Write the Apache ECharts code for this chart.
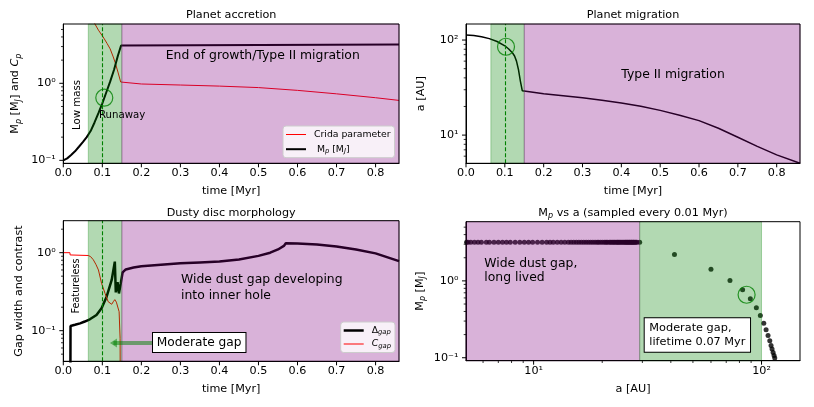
<!DOCTYPE html>
<html>
<head>
<meta charset="utf-8">
<title>Planet accretion, migration and dusty disc morphology</title>
<script src="https://cdn.jsdelivr.net/npm/echarts@6/dist/echarts.min.js"></script>
<style>
  html, body { margin: 0; padding: 0; background: #fff; }
  #chart { width: 814px; height: 407px; }
</style>
</head>
<body>
<div id="chart"></div>
<script>
// ---- planet accretion (top left) ----
var accTime = [0, 0.01, 0.02, 0.03, 0.04, 0.05, 0.06, 0.07, 0.08, 0.09, 0.10, 0.11, 0.12, 0.13, 0.14, 0.148, 0.15, 0.86];
var accMass = [0.100, 0.106, 0.117, 0.131, 0.150, 0.172, 0.200, 0.240, 0.310, 0.410, 0.550, 0.760, 1.05, 1.50, 2.30, 3.10, 3.18, 3.18];
var cridaTime = [0.075, 0.081, 0.090, 0.102, 0.112, 0.120, 0.128, 0.133, 0.140, 0.147, 0.150, 0.20, 0.30, 0.40, 0.50, 0.60, 0.70, 0.80, 0.86];
var cridaValue = [6.6, 5.9, 4.9, 4.0, 3.3, 2.8, 2.2, 1.85, 1.4, 1.04, 1.0, 0.98, 0.95, 0.92, 0.88, 0.81, 0.73, 0.65, 0.60];

// ---- planet migration (top right) ----
var migTime = [0, 0.02, 0.04, 0.06, 0.08, 0.10, 0.11, 0.12, 0.125, 0.13, 0.135, 0.14, 0.145, 0.15, 0.20, 0.25, 0.30, 0.35, 0.40, 0.45, 0.50, 0.55, 0.60, 0.65, 0.70, 0.75, 0.80, 0.86];
var migA = [113, 111.5, 108.5, 103.5, 96.5, 87, 80.5, 73, 68, 60, 49, 37, 29.2, 28.7, 27.3, 26.0, 24.7, 23.3, 21.8, 20.1, 18.2, 16.2, 14.2, 11.8, 9.5, 7.6, 6.2, 5.05];

// ---- dusty disc morphology (bottom left) ----
var gapTime = [0.018, 0.0185, 0.03, 0.043, 0.055, 0.068, 0.085, 0.098, 0.111, 0.124, 0.132, 0.1345, 0.139, 0.1425, 0.147, 0.152, 0.16, 0.18, 0.20, 0.25, 0.30, 0.35, 0.40, 0.45, 0.50, 0.53, 0.55, 0.565, 0.57, 0.60, 0.65, 0.70, 0.75, 0.80, 0.86];
var gapWidth = [0.01, 0.115, 0.119, 0.124, 0.131, 0.140, 0.159, 0.194, 0.273, 0.447, 0.767, 0.31, 0.42, 0.30, 0.40, 0.56, 0.61, 0.645, 0.67, 0.70, 0.73, 0.75, 0.77, 0.82, 0.91, 1.0, 1.1, 1.22, 1.32, 1.31, 1.27, 1.20, 1.10, 0.98, 0.78];
var contrastTime = [0, 0.017, 0.0175, 0.064, 0.070, 0.077, 0.084, 0.090, 0.098, 0.107, 0.115, 0.124, 0.128, 0.132, 0.136, 0.141, 0.143, 0.1455, 0.146];
var contrastValue = [1.0, 1.0, 0.935, 0.92, 0.89, 0.81, 0.70, 0.60, 0.405, 0.30, 0.235, 0.218, 0.235, 0.25, 0.232, 0.225, 0.175, 0.08, 0.01];

// ---- Mp vs a, sampled every 0.01 Myr (bottom right) ----
var growthA = [114.3, 113.5, 112.4, 111.2, 110.1, 108.7, 106.8, 104.7, 102.3, 98.8, 94.9, 89.3, 82.6, 72.7, 60.0, 41.5, 29.2];
var growthMass = [0.099, 0.107, 0.117, 0.130, 0.144, 0.166, 0.195, 0.231, 0.282, 0.354, 0.446, 0.584, 0.764, 1.01, 1.42, 2.20, 3.18];
var type2A = [28.4, 28.1, 27.8, 27.5, 27.3, 27.0, 26.8, 26.5, 26.3, 26.0,
              25.8, 25.5, 25.3, 25.0, 24.7, 24.4, 24.1, 23.8, 23.5, 23.3,
              23.0, 22.7, 22.4, 22.1, 21.8, 21.5, 21.1, 20.8, 20.5, 20.1,
              19.7, 19.3, 19.0, 18.6, 18.2, 17.8, 17.4, 17.0, 16.6, 16.2,
              15.8, 15.4, 15.0, 14.6, 14.2, 13.7, 13.2, 12.7, 12.2, 11.8,
              11.4, 10.9, 10.4, 9.9, 9.5, 9.1, 8.7, 8.3, 7.9, 7.6,
              7.3, 7.0, 6.7, 6.4, 6.2, 5.9, 5.7, 5.5, 5.3, 5.15, 5.08];
var type2Mass = [3.18, 3.18, 3.18, 3.18, 3.18, 3.18, 3.18, 3.18, 3.18, 3.18,
                 3.18, 3.18, 3.18, 3.18, 3.18, 3.18, 3.18, 3.18, 3.18, 3.18,
                 3.18, 3.18, 3.18, 3.18, 3.18, 3.18, 3.18, 3.18, 3.18, 3.18,
                 3.18, 3.18, 3.18, 3.18, 3.18, 3.18, 3.18, 3.18, 3.18, 3.18,
                 3.18, 3.18, 3.18, 3.18, 3.18, 3.18, 3.18, 3.18, 3.18, 3.18,
                 3.18, 3.18, 3.18, 3.18, 3.18, 3.18, 3.18, 3.18, 3.18, 3.18,
                 3.18, 3.18, 3.18, 3.18, 3.18, 3.18, 3.18, 3.18, 3.18, 3.18, 3.18];

// phases and markers
var runawayStart = 0.064, gapOpen = 0.15, tEnd = 0.86, tMark = 0.103;
var aGapOpen = 29.2, aRunawayStart = 100;
var circleAcc = [0.105, 0.65], circleMig = [0.103, 85], circleSample = [86, 0.66];
var arrowFrom = [0.229, 0.0695], arrowTo = [0.1285, 0.0695];

// axis ranges and ticks
var massRange = [0.0915, 5.89], aRange = [5.05, 147.5], gapRange = [0.0405, 2.57];
var timeTicks = [0, 0.1, 0.2, 0.3, 0.4, 0.5, 0.6, 0.7, 0.8];
var massTicks = [0.1, 1];
var massMinor = [0.2, 0.3, 0.4, 0.5, 0.6, 0.7, 0.8, 0.9, 2, 3, 4, 5];
var aTicks = [10, 100];
var aMinor = [6, 7, 8, 9, 20, 30, 40, 50, 60, 70, 80, 90];
var gapTicks = [0.1, 1];
var gapMinor = [0.05, 0.06, 0.07, 0.08, 0.09, 0.2, 0.3, 0.4, 0.5, 0.6, 0.7, 0.8, 0.9, 2];

var FONT = 'DejaVu Sans';
var FS = 11.2;

function pairs(xs, ys) {
  return xs.map(function (x, i) { return [x, ys[i]]; });
}

// 10^n labels for the log axes, blank at the range edges
var SUP = {'-': '\u207B', '0': '\u2070', '1': '\u00B9', '2': '\u00B2', '3': '\u00B3'};
function powLabel(v) {
  var e = Math.log10(v);
  if (Math.abs(e - Math.round(e)) > 1e-6) return '';
  return '10' + String(Math.round(e)).split('').map(function (c) { return SUP[c]; }).join('');
}

var axisRich = {
  n: {fontSize: FS, lineHeight: 15, fontFamily: FONT, color: '#000'},
  i: {fontSize: FS, lineHeight: 15, fontFamily: FONT, fontStyle: 'italic', color: '#000'},
  s: {fontSize: 8, lineHeight: 8, fontFamily: FONT, fontStyle: 'italic', verticalAlign: 'bottom', color: '#000'}
};

function timeAxis(grid) {
  return {
    gridIndex: grid, type: 'value', min: 0, max: tEnd,
    name: 'time [Myr]', nameLocation: 'middle', nameGap: 22, nameMoveOverlap: false,
    nameTextStyle: {fontSize: FS, fontFamily: FONT, color: '#000'},
    axisLine: {show: true, onZero: false, lineStyle: {color: '#000', width: 1}},
    axisTick: {show: false},
    axisLabel: {customValues: timeTicks, fontSize: FS, fontFamily: FONT, color: '#000', margin: 4,
      formatter: function (v) { return v.toFixed(1); }},
    splitLine: {show: false}
  };
}

function logAxis(grid, range, name, gap, vertical) {
  return {
    gridIndex: grid, type: 'log', logBase: 10, min: range[0], max: range[1],
    name: name, nameLocation: 'middle', nameGap: gap, nameMoveOverlap: false,
    nameTextStyle: {fontSize: FS, fontFamily: FONT, color: '#000', rich: axisRich},
    axisLine: {show: true, onZero: false, lineStyle: {color: '#000', width: 1}},
    axisTick: {show: false},
    axisLabel: {fontSize: FS, fontFamily: FONT, color: '#000', margin: vertical ? 7.5 : 4.5, formatter: powLabel},
    splitLine: {show: false},
    minorTick: {show: false}
  };
}

var GREEN = {color: 'rgba(0,128,0,0.3)', borderColor: 'rgba(0,128,0,0.3)', borderWidth: 1};
var PURPLE = {color: 'rgba(128,0,128,0.3)', borderColor: 'rgba(128,0,128,0.3)', borderWidth: 1};

function timeSpans() {
  return {
    silent: true, z: 3, label: {show: false},
    data: [
      [{xAxis: runawayStart, itemStyle: GREEN}, {xAxis: gapOpen}],
      [{xAxis: gapOpen, itemStyle: PURPLE}, {xAxis: tEnd}]
    ]
  };
}
function dashedMark() {
  return {
    silent: true, symbol: ['none', 'none'], label: {show: false},
    lineStyle: {color: '#008000', type: [4, 2], width: 1.1},
    data: [{xAxis: tMark}]
  };
}
function circleSeries(xi, yi, pt) {
  return {
    type: 'scatter', xAxisIndex: xi, yAxisIndex: yi, silent: true, z: 5,
    data: [pt], symbol: 'circle', symbolSize: 17,
    itemStyle: {color: 'rgba(0,0,0,0)', borderColor: '#008000', borderWidth: 1.2}
  };
}

var legendRich = {
  n: {fontSize: 9.3, lineHeight: 11, fontFamily: FONT, color: '#000'},
  i: {fontSize: 9.3, lineHeight: 11, fontFamily: FONT, fontStyle: 'italic', color: '#000'},
  s: {fontSize: 6.8, lineHeight: 6, fontFamily: FONT, fontStyle: 'italic', verticalAlign: 'bottom', color: '#000'}
};
function legendLabel(name) {
  if (name === 'Mp') return ' {n|M}{s|p}{n| [M}{s|J}{n|]}';
  if (name === '\u0394gap') return '{n|\u0394}{s|gap}';
  if (name === 'Cgap') return '{i|C}{s|gap}';
  return name;
}
// legend handles are plain line strokes of the series width
function handle(name, width) {
  return {name: name, icon: 'path://M0,0H20V' + width + 'H0Z'};
}
function legendBox(items, left, top, gap) {
  return {
    data: items, orient: 'vertical', left: left, top: top,
    padding: [3, 4, 3, 3], itemGap: gap, itemWidth: 20, itemHeight: 11,
    backgroundColor: 'rgba(255,255,255,0.8)', borderColor: '#cccccc', borderWidth: 1, borderRadius: 3,
    selectedMode: false, z: 12, formatter: legendLabel,
    itemStyle: {borderWidth: 0}, symbolKeepAspect: true,
    textStyle: {fontSize: 9.3, fontFamily: FONT, color: '#000', lineHeight: 11, padding: [0, 0, 0, 3], rich: legendRich}
  };
}

function txt(x, y, text, size, opts) {
  opts = opts || {};
  var style = {text: text, fontSize: size, fontFamily: FONT, fill: '#000',
    align: opts.align || 'left', verticalAlign: opts.va || 'middle',
    textAlign: opts.align || 'left', textVerticalAlign: opts.va || 'middle'};
  if (opts.style) Object.keys(opts.style).forEach(function (k) { style[k] = opts.style[k]; });
  return {type: 'text', x: x, y: y, z: 100, silent: true, rotation: opts.rotation || 0, style: style};
}

var titleRich = {
  n: {fontSize: FS, fontFamily: FONT, fill: '#000', lineHeight: 15},
  s: {fontSize: 8, fontFamily: FONT, fontStyle: 'italic', fill: '#000', lineHeight: 8, verticalAlign: 'bottom'}
};

var chart = echarts.init(document.getElementById('chart'), null, {renderer: 'canvas'});

var option = {
  animation: false,
  backgroundColor: '#fff',
  textStyle: {fontFamily: FONT},
  grid: [
    {left: 63.3, top: 24, width: 335.7, height: 139.3},
    {left: 466, top: 24, width: 334, height: 139.3},
    {left: 63.3, top: 220.7, width: 335.7, height: 140.6},
    {left: 466, top: 221.7, width: 334, height: 139}
  ].map(function (g) {
    g.show = true; g.z = 10; g.borderColor = '#000'; g.borderWidth = 1;
    g.backgroundColor = 'transparent'; g.outerBoundsMode = 'none'; g.containLabel = false;
    return g;
  }),
  xAxis: [
    timeAxis(0),
    timeAxis(1),
    timeAxis(2),
    (function () {
      var ax = logAxis(3, aRange, 'a [AU]', 23, false);
      ax.nameTextStyle = {fontSize: FS, fontFamily: FONT, color: '#000'};
      return ax;
    })()
  ],
  yAxis: [
    logAxis(0, massRange, '{n|M}{s|p}{n| [M}{s|J}{n|] and }{i|C}{s|p}', 40.8, true),
    logAxis(1, aRange, '{n|a [AU]}', 37.5, true),
    logAxis(2, gapRange, '{n|Gap width and contrast}', 36.3, true),
    logAxis(3, massRange, '{n|M}{s|p}{n| [M}{s|J}{n|]}', 38.7, true)
  ],
  legend: [
    legendBox([handle('Crida parameter', 1), handle('Mp', 2)], 283, 126, 3.7),
    legendBox([handle('\u0394gap', 2.5), handle('Cgap', 1)], 340.7, 322, 2.5)
  ],
  series: [
    // planet accretion
    {name: 'Crida parameter', type: 'line', xAxisIndex: 0, yAxisIndex: 0, symbol: 'none', clip: true, z: 2,
      data: pairs(cridaTime, cridaValue), color: '#ff0000', lineStyle: {color: '#ff0000', width: 1}},
    {name: 'Mp', type: 'line', xAxisIndex: 0, yAxisIndex: 0, symbol: 'none', clip: true, z: 2,
      data: pairs(accTime, accMass), color: '#000', lineStyle: {color: '#000', width: 2},
      markArea: timeSpans(), markLine: dashedMark()},
    circleSeries(0, 0, circleAcc),

    // planet migration
    {name: 'a', type: 'line', xAxisIndex: 1, yAxisIndex: 1, symbol: 'none', clip: true, z: 2,
      data: pairs(migTime, migA), color: '#000', lineStyle: {color: '#000', width: 1.5},
      markArea: timeSpans(), markLine: dashedMark()},
    circleSeries(1, 1, circleMig),

    // dusty disc morphology
    {name: '\u0394gap', type: 'line', xAxisIndex: 2, yAxisIndex: 2, symbol: 'none', clip: true, z: 2,
      data: pairs(gapTime, gapWidth), color: '#000', lineStyle: {color: '#000', width: 2.5},
      markArea: timeSpans(), markLine: dashedMark()},
    {name: 'Cgap', type: 'line', xAxisIndex: 2, yAxisIndex: 2, symbol: 'none', clip: true, z: 2,
      data: pairs(contrastTime, contrastValue), color: '#ff0000', lineStyle: {color: '#ff0000', width: 1},
      markLine: {
        silent: true, symbol: ['none', 'triangle'], symbolSize: [9, 7], label: {show: false},
        lineStyle: {color: 'rgba(0,128,0,0.5)', width: 4, type: 'solid'},
        data: [[{coord: arrowFrom}, {coord: arrowTo}]]
      }},

    // Mp vs a
    {name: 'samples', type: 'scatter', xAxisIndex: 3, yAxisIndex: 3, symbol: 'circle', symbolSize: 5, z: 2,
      data: pairs(growthA, growthMass).concat(pairs(type2A, type2Mass)),
      itemStyle: {color: '#000'},
      markArea: {
        silent: true, z: 3, label: {show: false},
        data: [
          [{xAxis: aRange[0], itemStyle: PURPLE}, {xAxis: aGapOpen}],
          [{xAxis: aGapOpen, itemStyle: GREEN}, {xAxis: aRunawayStart}]
        ]
      }},
    circleSeries(3, 3, circleSample)
  ]
};

chart.setOption(option);

// annotations
var labels = [
  txt(231.2, 15, 'Planet accretion', FS, {align: 'center'}),
  txt(633, 15, 'Planet migration', FS, {align: 'center'}),
  txt(231.2, 212.7, 'Dusty disc morphology', FS, {align: 'center'}),
  txt(633, 212.7, '{n|M}{s|p}{n| vs a (sampled every 0.01 Myr)}', FS, {align: 'center', style: {rich: titleRich}}),

  txt(77, 105, 'Low mass', 10.2, {align: 'center', rotation: Math.PI / 2}),
  txt(99, 115.7, 'Runaway', 10.2),
  txt(165.7, 56, 'End of growth/Type II migration', 12.4),
  txt(621.3, 75, 'Type II migration', 12.4),

  txt(76.5, 286, 'Featureless', 9.6, {align: 'center', rotation: Math.PI / 2}),
  txt(181, 272.2, 'Wide dust gap developing\ninto inner hole', 12.4, {va: 'top', style: {lineHeight: 15.7}}),
  txt(153, 333, 'Moderate gap', 12.2, {va: 'top', style: {
    lineHeight: 14, padding: [2.5, 4, 2.5, 3.7], backgroundColor: '#fff', borderColor: '#000', borderWidth: 1}}),

  txt(484.3, 256.1, 'Wide dust gap,\nlong lived', 12.4, {va: 'top', style: {lineHeight: 14.4}}),
  txt(644.7, 318.3, 'Moderate gap,\nlifetime 0.07 Myr', 11.3, {va: 'top', style: {
    lineHeight: 13.3, padding: [3.4, 4.6, 3.4, 4.6], backgroundColor: '#fff', borderColor: '#000', borderWidth: 1}})
];

// outward ticks, placed through each axis scale
var ticks = [];
function addTicks(xi, yi, side, anchor, values, len, width) {
  values.forEach(function (v) {
    var p = chart.convertToPixel({xAxisIndex: xi, yAxisIndex: yi}, side === 'left' ? [anchor, v] : [v, anchor]);
    ticks.push({
      type: 'line', z: 100, silent: true,
      shape: {x1: p[0], y1: p[1], x2: side === 'left' ? p[0] - len : p[0], y2: side === 'left' ? p[1] : p[1] + len},
      style: {stroke: '#000', lineWidth: width}
    });
  });
}
addTicks(0, 0, 'bottom', massRange[0], timeTicks, 4, 1);
addTicks(1, 1, 'bottom', aRange[0], timeTicks, 4, 1);
addTicks(2, 2, 'bottom', gapRange[0], timeTicks, 4, 1);
addTicks(0, 0, 'left', 0, massTicks, 4, 1);
addTicks(0, 0, 'left', 0, massMinor, 2.3, 0.8);
addTicks(1, 1, 'left', 0, aTicks, 4, 1);
addTicks(1, 1, 'left', 0, aMinor, 2.3, 0.8);
addTicks(2, 2, 'left', 0, gapTicks, 4, 1);
addTicks(2, 2, 'left', 0, gapMinor, 2.3, 0.8);
addTicks(3, 3, 'left', aRange[0], massTicks, 4, 1);
addTicks(3, 3, 'left', aRange[0], massMinor, 2.3, 0.8);
addTicks(3, 3, 'bottom', massRange[0], aTicks, 4, 1);
addTicks(3, 3, 'bottom', massRange[0], aMinor, 2.3, 0.8);

chart.setOption({graphic: {elements: labels.concat(ticks)}});
</script>
</body>
</html>
